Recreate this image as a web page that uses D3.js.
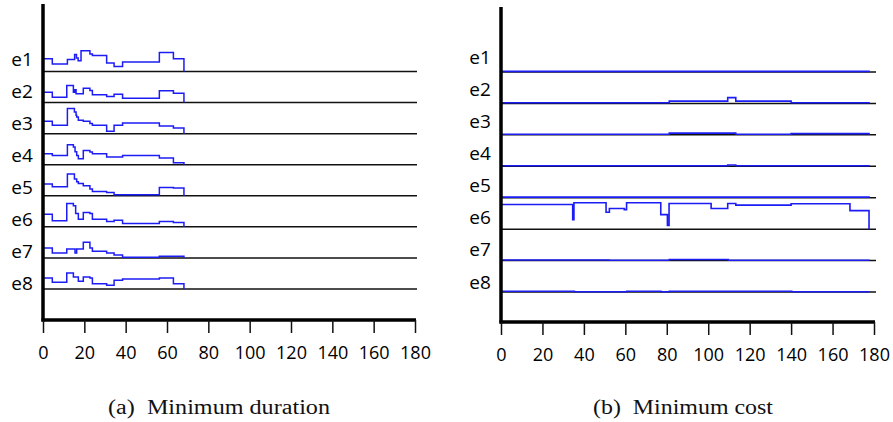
<!DOCTYPE html>
<html><head><meta charset="utf-8">
<script src="https://cdn.jsdelivr.net/npm/d3@7"></script>
<style>body{margin:0;background:#fff}</style>
</head><body>
<svg id="chart" width="893" height="422"></svg>
<script>
// ---------- data ----------
const rows = ["e1","e2","e3","e4","e5","e6","e7","e8"];
const xTicks = [0,20,40,60,80,100,120,140,160,180];
const captions = ["(a)  Minimum duration","(b)  Minimum cost"];

// (a) Minimum duration: [time, level] step points per row
const durE1 = [[0,12.7],[4.5,7.4],[11.8,12],[15.3,17],[16.2,13.5],[17,10.7],[18.4,20.7],[22.7,17.5],[23.9,16],[30.8,8.4],[34.4,5],[38.5,9.4],[56.3,19],[63.1,12.7],[68.2,0]];
const durE2 = [[0,10.3],[4.5,5.3],[11.5,17],[14.7,10.3],[15.3,12.7],[16,8.7],[17.1,8.7],[19.5,14.3],[22.7,12],[23.9,7.7],[30.8,6],[34.4,8.3],[38.5,4.3],[56.3,11.7],[63.1,9.3],[68.2,0]];
const durE3 = [[0,12.3],[4.5,8.3],[11.8,25],[15.2,21.7],[16,18.3],[16.3,16.7],[17.1,13.3],[19.5,12.3],[22.7,10],[23.9,8.3],[30.8,2.3],[34.4,8.3],[38.5,10.7],[56.3,7.7],[63.1,5.7],[68.2,0]];
const durE4 = [[0,11],[4.5,9.3],[11.8,20],[14.7,17.7],[15.5,13],[16.3,9.3],[17.1,6],[19.5,14.3],[22.7,12.7],[23.9,11],[30.8,7.7],[38.5,9.3],[56.3,6.7],[63.1,2],[68.2,0]];
const durE5 = [[0,11.7],[4.5,9],[11.8,21.7],[15.2,16.7],[16.3,14],[17.1,12.3],[19.5,10],[22.7,6.7],[23.9,4.3],[30.8,3.3],[34.4,1],[56.3,8.3],[63.1,7.7],[68.2,0]];
const durE6 = [[0,12.7],[4.5,6],[11.5,23.3],[14.7,21],[15.8,13.3],[17.1,7.7],[19.5,14.3],[22.7,13.3],[23.9,7.7],[30.8,5.3],[34.4,6.7],[38.5,3.3],[56.3,5.3],[63.1,4.3],[68.2,0]];
const durE7 = [[0,10],[4.5,5],[11.5,9],[15.5,5],[16.3,9],[19.5,15.7],[22.7,10],[23.9,6.7],[30.8,5],[34.4,3],[38.5,0.7],[56.3,1.7],[68.2,0]];
const durE8 = [[0,11],[4.5,6.7],[11.5,16],[14.7,12],[17.1,7.7],[19.5,12],[22.7,11],[23.9,5.3],[30.8,3.7],[34.4,8.7],[38.5,10],[56.3,11],[63.1,5.3],[68.2,0]];

// (b) Minimum cost
const costE1 = [[0,0.6],[177.6,0]];
const costE2 = [[0,0.6],[81.2,2.3],[109.4,5.7],[113.3,2.3],[140,0.6],[177.6,0]];
const costE3 = [[0,0.6],[81.2,1.7],[113.3,0.6],[140,1.2],[177.6,0]];
const costE4 = [[0,0.6],[109.4,1.2],[113.3,0.6],[177.6,0]];
const costE5 = [[0,0.6],[177.6,0]];
const costE6 = [[0,24.3],[34.6,9.3],[35.2,26],[50.7,16.7],[52.3,20.3],[59.5,19.3],[60.6,26],[77.1,14.3],[80.3,3.7],[81.1,25.3],[101.4,20.3],[109.4,25.3],[113.3,23.7],[140,25],[168.4,18.3],[177.6,0]];
const costE7 = [[0,0.6],[52.3,0.3],[81.2,1],[109.7,0.3],[177.6,0]];
const costE8 = [[0,0.7],[35.4,0.3],[60.7,0.7],[77.2,0.2],[81.2,0.7],[140.3,0.3],[177.6,0]];

const durSeries = [durE1,durE2,durE3,durE4,durE5,durE6,durE7,durE8];
const costSeries = [costE1,costE2,costE3,costE4,costE5,costE6,costE7,costE8];

// ---------- drawing ----------
const svg = d3.select("#chart");
const blue = "#1c1cf5";

const panels = [
  {series: durSeries, x0: 43, x1: 415, top: 4, axisY: 320, rowTop: 71.5, rowBot: 289, labTop: 66, labBot: 290, labX: 22, capX: 219, capW: 222, lw: 1.5},
  {series: costSeries, x0: 501, x1: 874, top: 7, axisY: 322, rowTop: 72, rowBot: 292, labTop: 63.5, labBot: 288.5, labX: 480, capX: 683, capW: 180, lw: 1.6}
];

panels.forEach((p, pi) => {
  const g = svg.append("g");
  const x = d3.scaleLinear().domain([0,180]).range([p.x0, p.x1]);
  const rowY = d3.scalePoint().domain(rows).range([p.rowTop, p.rowBot]);
  const labY = d3.scalePoint().domain(rows).range([p.labTop, p.labBot]);
  const v = d3.scaleLinear().domain([0,31]).range([0, rowY.step()]);

  // row baselines
  g.selectAll("line.base").data(rows).join("line")
    .attr("x1", p.x0).attr("x2", p.x1 + 2)
    .attr("y1", d => rowY(d)).attr("y2", d => rowY(d))
    .attr("stroke", "#111").attr("stroke-width", 1.5);

  // step lines
  rows.forEach((r, i) => {
    const line = d3.line()
      .x(d => x(d[0]))
      .y(d => rowY(r) - v(d[1]))
      .curve(d3.curveStepAfter);
    g.append("path").datum(p.series[i])
      .attr("d", line)
      .attr("fill", "none")
      .attr("stroke", blue)
      .attr("stroke-width", p.lw);
  });

  // row labels
  g.selectAll("text.lab").data(rows).join("text")
    .attr("x", p.labX).attr("y", d => labY(d))
    .attr("text-anchor", "middle")
    .attr("font-family", "'Open Sans', sans-serif")
    .attr("font-size", 19)
    .attr("font-weight", 500)
    .attr("fill", "#000")
    .text(d => d);

  // y axis line
  g.append("line")
    .attr("x1", p.x0).attr("x2", p.x0)
    .attr("y1", p.top).attr("y2", p.axisY + 1.5)
    .attr("stroke", "#000").attr("stroke-width", 3.5);

  // x axis
  const ax = g.append("g").attr("transform", `translate(0,${p.axisY})`)
    .call(d3.axisBottom(x).tickValues(xTicks).tickSize(13).tickSizeOuter(0).tickPadding(13).tickFormat(d3.format("d")));
  ax.select(".domain").attr("stroke", "#000").attr("stroke-width", 3.5)
    .attr("d", `M${p.x0 - 1.5},0H${p.x1 + 1}`);
  ax.selectAll(".tick line").attr("stroke", "#111").attr("stroke-width", 1.5);
  ax.selectAll(".tick text")
    .attr("font-family", "'Open Sans', sans-serif")
    .attr("font-size", 18).attr("font-weight", 500).attr("fill", "#000");

  // caption
  g.append("text")
    .attr("x", p.capX - p.capW / 2).attr("y", 414)
    .attr("font-family", "'Liberation Serif', serif")
    .attr("font-size", 20)
    .attr("fill", "#111")
    .attr("textLength", p.capW)
    .attr("lengthAdjust", "spacingAndGlyphs")
    .style("white-space", "pre")
    .text(captions[pi]);
});
</script>
</body></html>
